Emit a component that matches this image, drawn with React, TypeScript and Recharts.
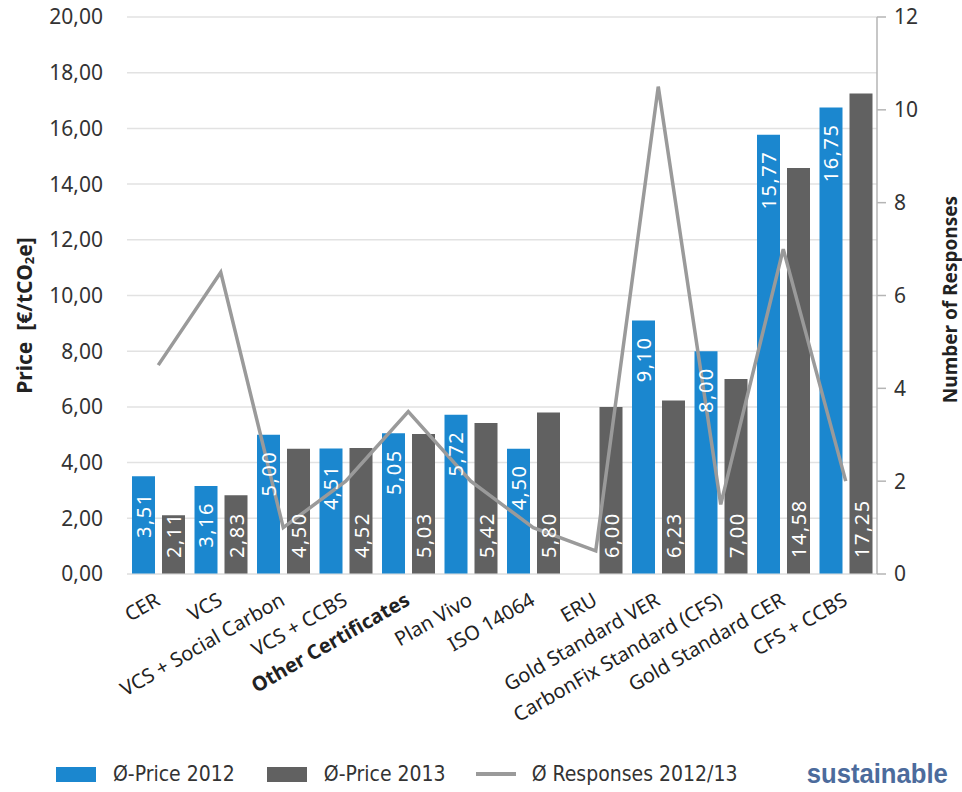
import React from "react";
import {
  ComposedChart,
  Bar,
  Line,
  XAxis,
  YAxis,
  CartesianGrid,
  LabelList,
  Legend,
} from "recharts";

const categories: string[] = [
  "CER",
  "VCS",
  "VCS + Social Carbon",
  "VCS + CCBS",
  "Other Certificates",
  "Plan Vivo",
  "ISO 14064",
  "ERU",
  "Gold Standard VER",
  "CarbonFix Standard (CFS)",
  "Gold Standard CER",
  "CFS + CCBS",
];
const price2012: (number | null)[] = [3.51, 3.16, 5.0, 4.51, 5.05, 5.72, 4.5, null, 9.1, 8.0, 15.77, 16.75];
const price2013: number[] = [2.11, 2.83, 4.5, 4.52, 5.03, 5.42, 5.8, 6.0, 6.23, 7.0, 14.58, 17.25];
const responses: number[] = [4.5, 6.5, 1, 2, 3.5, 2, 1, 0.5, 10.5, 1.5, 7, 2];
const priceTicks = [0, 2, 4, 6, 8, 10, 12, 14, 16, 18, 20];
const responseTicks = [0, 2, 4, 6, 8, 10, 12];

const data = categories.map((name, i) => ({
  name,
  p2012: price2012[i],
  p2013: price2013[i],
  resp: responses[i],
}));

const BLUE = "#1b87cf";
const GRAY = "#616161";
const LINE = "#9a9a9a";
const FONT = "'Noto Sans', 'Open Sans', sans-serif";
const NARROW = "'Liberation Sans Narrow', 'DejaVu Sans Condensed', sans-serif";

const fmt = (v: number) => v.toFixed(2).replace(".", ",");

const TopLabel = (props: any) => {
  const { x, y, width, value } = props;
  if (value == null) return null;
  const cx = x + width / 2;
  const ty = y + 16;
  return (
    <text
      x={cx}
      y={ty}
      transform={`rotate(-90, ${cx}, ${ty})`}
      textAnchor="end"
      dominantBaseline="central"
      fill="#fff"
      fontSize={20}
      letterSpacing={1.5}
      fontFamily={FONT}
    >
      {fmt(value)}
    </text>
  );
};

const BottomLabel = (props: any) => {
  const { x, y, width, height, value } = props;
  if (value == null) return null;
  const cx = x + width / 2;
  const ty = y + height - 16;
  return (
    <text
      x={cx}
      y={ty}
      transform={`rotate(-90, ${cx}, ${ty})`}
      textAnchor="start"
      dominantBaseline="central"
      fill="#fff"
      fontSize={20}
      letterSpacing={1.5}
      fontFamily={FONT}
    >
      {fmt(value)}
    </text>
  );
};

const CategoryTick = (props: any) => {
  const { x, y, payload } = props;
  const tx = x + 3;
  const ty = y + 22;
  const bold = payload.value === "Other Certificates";
  return (
    <text
      x={tx}
      y={ty}
      transform={`rotate(-30, ${tx}, ${ty})`}
      textAnchor="end"
      fill="#222"
      fontSize={20}
      fontWeight={bold ? 700 : 400}
      fontFamily={FONT}
    >
      {payload.value}
    </text>
  );
};

const LegendBox = () => (
  <div
    style={{
      height: 58,
      display: "flex",
      alignItems: "center",
      fontFamily: NARROW,
      fontSize: 21,
      color: "#333",
      paddingTop: 22,
      boxSizing: "border-box",
    }}
  >
    <span style={{ display: "inline-block", width: 40, height: 15, background: BLUE, marginLeft: 56 }} />
    <span style={{ marginLeft: 17 }}>Ø-Price 2012</span>
    <span style={{ display: "inline-block", width: 40, height: 15, background: GRAY, marginLeft: 32 }} />
    <span style={{ marginLeft: 17 }}>Ø-Price 2013</span>
    <span style={{ display: "inline-block", width: 40, height: 4, background: LINE, marginLeft: 30 }} />
    <span style={{ marginLeft: 16 }}>Ø Responses 2012/13</span>
    <span
      style={{
        marginLeft: 66,
        fontFamily: "'Liberation Sans', Arial, sans-serif",
        fontWeight: 700,
        fontSize: 27,
        color: "#4c6b9c",
        transform: "scaleX(0.95)",
      }}
    >
      sustainable
    </span>
  </div>
);

const App: React.FC = () => {
  return (
    <div style={{ position: "absolute", left: 0, top: 0, width: 962, height: 792, background: "#fff" }}>
      <ComposedChart
        width={962}
        height={792}
        data={data}
        margin={{ top: 17, right: 0, bottom: 0, left: 0 }}
        barSize={23}
        barGap={7}
      >
        <CartesianGrid horizontal vertical={false} stroke="#e2e2e2" strokeWidth={1.5} yAxisId="left" />
        <XAxis
          dataKey="name"
          interval={0}
          height={160}
          tick={<CategoryTick />}
          tickLine={false}
          axisLine={{ stroke: "#e2e2e2" }}
        />
        <YAxis
          yAxisId="left"
          domain={[0, 20]}
          ticks={priceTicks}
          width={127}
          axisLine={false}
          tickLine={false}
          tickSize={0}
          tickMargin={24}
          tickFormatter={(v: number) => fmt(v)}
          tick={{ fill: "#333", fontSize: 21, fontFamily: FONT }}
          label={(p: any) => {
            const vb = p.viewBox;
            const cx = 24;
            const cy = vb.y + vb.height / 2 + 20;
            return (
              <text
                x={cx}
                y={cy}
                transform={`rotate(-90, ${cx}, ${cy})`}
                textAnchor="middle"
                dominantBaseline="central"
                fontSize={21}
                fontWeight={700}
                fontFamily={FONT}
                fill="#222"
              >
                {"Price\u00A0\u00A0[€/tCO"}
                <tspan fontSize={13} dy={5}>2</tspan>
                <tspan dy={-5}>e]</tspan>
              </text>
            );
          }}
        />
        <YAxis
          yAxisId="right"
          orientation="right"
          domain={[0, 12]}
          ticks={responseTicks}
          width={85}
          axisLine={{ stroke: "#b5b5b5", strokeWidth: 1.5 }}
          tickLine={{ stroke: "#b5b5b5", strokeWidth: 1.5 }}
          tickSize={9}
          tickMargin={8}
          tick={{ fill: "#333", fontSize: 21, fontFamily: FONT, textAnchor: "start" }}
          label={(p: any) => {
            const vb = p.viewBox;
            const cx = 950;
            const cy = vb.y + vb.height / 2 + 4;
            return (
              <text
                x={cx}
                y={cy}
                transform={`rotate(-90, ${cx}, ${cy})`}
                textAnchor="middle"
                dominantBaseline="central"
                fontSize={19}
                fontWeight={700}
                fontFamily={FONT}
                fill="#222"
              >
                Number of Responses
              </text>
            );
          }}
        />
        <Legend verticalAlign="bottom" content={<LegendBox />} />
        <Bar yAxisId="left" dataKey="p2012" name="Ø-Price 2012" fill={BLUE} isAnimationActive={false}>
          <LabelList dataKey="p2012" content={<TopLabel />} />
        </Bar>
        <Bar yAxisId="left" dataKey="p2013" name="Ø-Price 2013" fill={GRAY} isAnimationActive={false}>
          <LabelList dataKey="p2013" content={<BottomLabel />} />
        </Bar>
        <Line
          yAxisId="right"
          dataKey="resp"
          name="Ø Responses 2012/13"
          type="linear"
          stroke={LINE}
          strokeWidth={3.5}
          dot={false}
          activeDot={false}
          isAnimationActive={false}
        />
      </ComposedChart>
    </div>
  );
};

export default App;
